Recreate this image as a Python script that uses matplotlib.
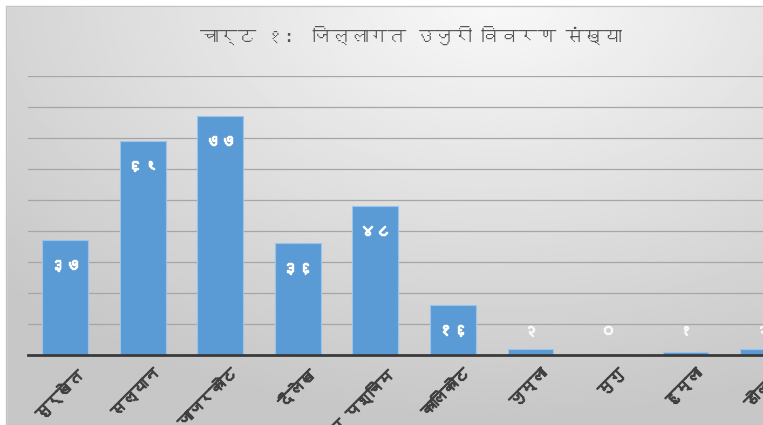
import numpy as np
import matplotlib
matplotlib.use("Agg")
import matplotlib.pyplot as plt
import matplotlib.patheffects as pe
import matplotlib.transforms as mtransforms
from matplotlib import font_manager
from matplotlib.ft2font import FT2Font
from matplotlib.patches import Rectangle

# data
districts = ["सुर्खेत", "सल्यान", "जाजरकोट", "दैलेख", "रुकुम पश्चिम",
             "कालिकोट", "जुम्ला", "मुगु", "हुम्ला", "डोल्पा"]
complaints = [37, 69, 77, 36, 48, 16, 2, 0, 1, 2]
value_labels = ["३७", "६९", "७७", "३६", "४८", "१६", "२", "०", "१", "२"]
title = "चार्ट १:  जिल्लागत उजुरी विवरण संख्या"


# find a font that has Devanagari glyphs, if any
def find_family(ch):
    for f in font_manager.fontManager.ttflist:
        try:
            if ord(ch) in FT2Font(f.fname).get_charmap():
                return f.name
        except Exception:
            pass
    return None


deva = find_family("च")
families = [deva, "DejaVu Sans"] if deva else ["DejaVu Sans"]
plt.rcParams["font.family"] = families

fig = plt.figure(figsize=(7.63, 4.25), dpi=100)

# gradient background
bg = fig.add_axes([0, 0, 1, 1], zorder=0)
yy, xx = np.mgrid[0:1:200j, 0:1:300j]
d = np.sqrt((xx - 0.65) ** 2 + ((yy - 1.0) * 0.9) ** 2)
shade = np.clip(0.975 - 0.22 * d, 0.78, 1.0)
bg.imshow(shade, cmap="gray", vmin=0, vmax=1, origin="lower",
          extent=[0, 1, 0, 1], aspect="auto")
bg.set_xlim(0, 1)
bg.set_ylim(0, 1)
bg.axis("off")
# white margin at top/left + thin frame
bg.add_patch(Rectangle((0, 0), 6 / 763, 1, color="white", zorder=2))
bg.add_patch(Rectangle((0, 1 - 6 / 425), 1, 6 / 425, color="white", zorder=2))
bg.plot([6 / 763, 6 / 763, 1], [0, 1 - 6 / 425, 1 - 6 / 425],
        color="#c4c4c4", lw=1, zorder=3)

ax = fig.add_axes([28 / 763, 70 / 425, 1 - 28 / 763, 279 / 425], zorder=1)
ax.set_facecolor("none")

x = np.arange(len(districts))
ax.bar(x, complaints, width=0.59, color="#5b9bd5", edgecolor="#9cc3ea",
       linewidth=0.8, zorder=3)

ax.set_xlim(-0.48, 9.0)
ax.set_ylim(0, 90)
ax.set_yticks(np.arange(10, 91, 10))
ax.yaxis.grid(True, color="#a6a6a6", lw=0.9, zorder=0)
ax.tick_params(axis="y", left=False, labelleft=False)
ax.tick_params(axis="x", bottom=False, pad=5)
for s in ["top", "right", "left"]:
    ax.spines[s].set_visible(False)
ax.spines["bottom"].set_color("#3a3a3a")
ax.spines["bottom"].set_linewidth(2)
ax.spines["bottom"].set_zorder(4)

ax.set_xticks(x)
ax.set_xticklabels(districts, rotation=45, ha="right", rotation_mode="anchor",
                   fontsize=11, color="#404040")
shift = mtransforms.ScaledTranslation(10 / 100, 0, fig.dpi_scale_trans)
for lbl in ax.get_xticklabels():
    lbl.set_transform(lbl.get_transform() + shift)
    lbl.set_path_effects([pe.withStroke(linewidth=0.9, foreground="#404040")])

for xi, v, lab in zip(x, complaints, value_labels):
    y = max(v - 8, 7.8)
    ax.text(xi, y, lab, ha="center", va="center", fontsize=11,
            color="white", alpha=1.0 if v > 10 else 0.75, zorder=5,
            path_effects=[pe.withStroke(linewidth=1.0, foreground="white")])

fig.text(411 / 763, 1 - 35 / 425, title, ha="center", va="center",
         fontsize=13.5, color="#555555")

fig.savefig("out.png", dpi=100)
